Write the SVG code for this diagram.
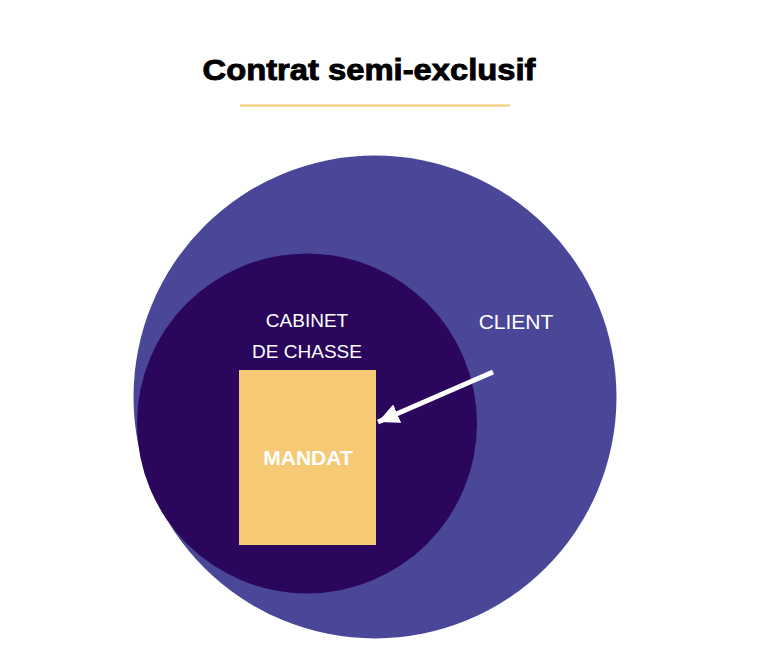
<svg xmlns="http://www.w3.org/2000/svg" width="776" height="663" viewBox="0 0 776 663">
  <style>
    .lbl { font-family: "Liberation Sans", Arial, sans-serif; fill: #ffffff; text-anchor: middle; }
    .title { font-family: "Liberation Sans", Arial, sans-serif; font-weight: bold; fill: #000000; stroke: #000000; stroke-width: 0.9; text-anchor: middle; }
  </style>
  <defs>
    <marker id="head" markerUnits="userSpaceOnUse" markerWidth="24" markerHeight="22" refX="21" refY="10" orient="auto">
      <path d="M0,0 L21,10 L0,20 Z" fill="#ffffff"/>
    </marker>
  </defs>
  <rect width="776" height="663" fill="#ffffff"/>
  <g id="title">
    <text class="title" x="369" y="80" font-size="29.5" textLength="333" lengthAdjust="spacingAndGlyphs">Contrat semi-exclusif</text>
    <line x1="240" y1="105.5" x2="510" y2="105.5" stroke="#f5c96f" stroke-width="2"/>
  </g>
  <g id="client">
    <circle cx="375" cy="397" r="241.5" fill="#4a4799"/>
    <text class="lbl" x="516" y="329" font-size="21">CLIENT</text>
  </g>
  <g id="cabinet">
    <circle cx="307" cy="423.5" r="170" fill="#2a075c"/>
    <text class="lbl" x="307" y="327" font-size="19">CABINET</text>
    <text class="lbl" x="307" y="357.5" font-size="19">DE CHASSE</text>
  </g>
  <g id="mandat">
    <rect x="239" y="370" width="137" height="175" fill="#f6c974"/>
    <text class="lbl" x="308" y="465" font-size="21" font-weight="bold">MANDAT</text>
  </g>
  <g id="connectors">
    <line x1="493" y1="372" x2="378" y2="422" stroke="#ffffff" stroke-width="5" marker-end="url(#head)"/>
  </g>
</svg>
